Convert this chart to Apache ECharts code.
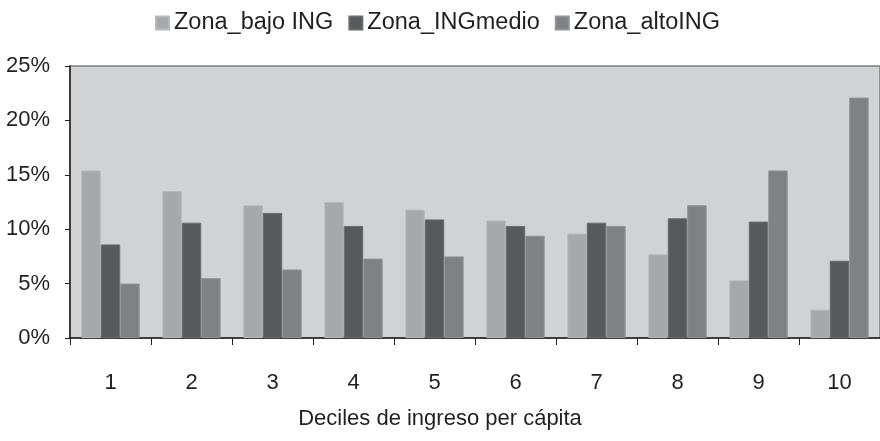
<!DOCTYPE html>
<html>
<head>
<meta charset="utf-8">
<script src="https://cdn.jsdelivr.net/npm/echarts@6/dist/echarts.min.js"></script>
<style>
  html, body { margin: 0; padding: 0; background: #fff; }
  #chart { width: 880px; height: 441px; }
</style>
</head>
<body>
<div id="chart"></div>
<script>
// deciles
const deciles = ['1', '2', '3', '4', '5', '6', '7', '8', '9', '10']
// porcentaje por zona
const zonaBajo = [15.4, 13.5, 12.2, 12.5, 11.8, 10.8, 9.6, 7.7, 5.3, 2.6]
const zonaMedio = [8.6, 10.6, 11.5, 10.3, 10.9, 10.3, 10.6, 11.0, 10.7, 7.1]
const zonaAlto = [5.0, 5.5, 6.3, 7.3, 7.5, 9.4, 10.3, 12.2, 15.4, 22.1]
const seriesNames = ['Zona_bajo ING', 'Zona_INGmedio', 'Zona_altoING']

const font = 'Liberation Sans, Arial, sans-serif'
const textColor = '#231f20'

const chart = echarts.init(document.getElementById('chart'))

function bar(name, data, color, border) {
  return {
    name: name,
    type: 'bar',
    data: data,
    barGap: 0,
    barCategoryGap: '28%',
    itemStyle: { color: color, borderColor: border, borderWidth: 1 },
    animation: false
  }
}

chart.setOption({
  textStyle: { fontFamily: font },
  legend: {
    data: seriesNames,
    top: 6,
    left: 150,
    itemWidth: 13,
    itemHeight: 13,
    itemGap: 15,
    icon: 'rect',
    textStyle: { fontSize: 23.5, color: textColor, fontFamily: font }
  },
  grid: {
    left: 70,
    right: -9,
    top: 66,
    bottom: 103,
    show: true,
    backgroundColor: '#d1d2d4',
    borderColor: '#7d7e80',
    borderWidth: 1.5
  },
  xAxis: {
    type: 'category',
    data: deciles,
    name: 'Deciles de ingreso per cápita',
    nameLocation: 'middle',
    nameGap: 70,
    // el área sale del marco por la derecha; se corre el título al centro de la imagen
    nameTextStyle: { fontSize: 22, color: textColor, padding: [0, 70, 0, 0] },
    axisLine: { lineStyle: { color: '#231f20', width: 1.5 } },
    axisTick: { show: true, length: 7, lineStyle: { color: '#231f20' } },
    axisLabel: { fontSize: 22, color: textColor, margin: 34 }
  },
  yAxis: {
    type: 'value',
    min: 0,
    max: 25,
    interval: 5,
    splitLine: { show: false },
    axisLine: { show: true, lineStyle: { color: '#231f20', width: 1.5 } },
    axisTick: { show: true, length: 5, lineStyle: { color: '#231f20' } },
    axisLabel: { fontSize: 22, color: textColor, margin: 20, formatter: '{value}%' }
  },
  series: [
    bar(seriesNames[0], zonaBajo, '#a7a8ab', '#b8b9bc'),
    bar(seriesNames[1], zonaMedio, '#58595b', '#6a6b6d'),
    bar(seriesNames[2], zonaAlto, '#808184', '#929396')
  ]
})
</script>
</body>
</html>
